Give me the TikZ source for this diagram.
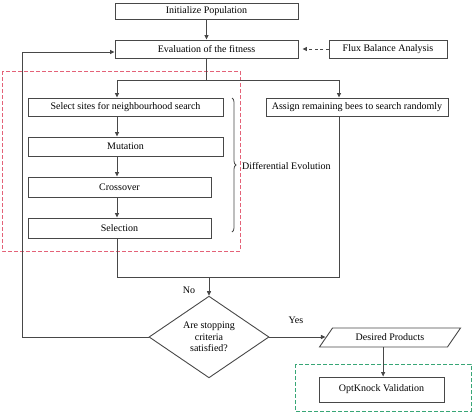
\documentclass[tikz,border=0pt]{standalone}
\usepackage{fontspec}
\setmainfont{Liberation Serif}
\usetikzlibrary{arrows.meta}
\usetikzlibrary{shapes.geometric}
\usetikzlibrary{decorations.pathreplacing}

\definecolor{deRed}{RGB}{228,98,120}
\definecolor{okGreen}{RGB}{56,166,118}
\definecolor{lineGray}{RGB}{72,72,72}

\begin{document}
\begin{tikzpicture}[x=1pt, y=-1pt, >={Triangle[width=4pt,length=4.5pt]}, font=\fontsize{10}{11.5}\selectfont,
	box/.style={draw=lineGray, line width=0.9pt, inner sep=0pt, minimum height=18pt},
	flow/.style={lineGray, line width=0.9pt}]
	\useasboundingbox (0,0) rectangle (474,413);
	\draw [deRed, line width=0.9pt, dash pattern=on 4pt off 2pt] (2,71) rectangle (240,251);
	\draw [okGreen, line width=0.9pt, dash pattern=on 4pt off 2pt] (295,364) rectangle (471,411);
	\node [box, minimum width=183pt, minimum height=16pt] (init) at (206.5,11) {Initialize Population};
	\node [box, minimum width=183pt] (eval) at (206.5,49) {Evaluation of the fitness};
	\node [box, minimum width=118pt] (fba) at (388,49) {Flux Balance Analysis};
	\node [box, minimum width=195pt] (select) at (125.5,107) {Select sites for neighbourhood search};
	\node [box, minimum width=195pt, minimum height=19pt] (mut) at (125.5,146.5) {Mutation};
	\node [box, minimum width=183pt, minimum height=20pt] (cross) at (119.5,187) {Crossover};
	\node [box, minimum width=183pt, minimum height=20pt] (sel) at (119.5,228) {Selection};
	\node [box, minimum width=182pt] (assign) at (357,107) {Assign remaining bees to search randomly};
	\node [draw=lineGray, line width=0.9pt, diamond, inner sep=0pt, minimum width=120pt, minimum height=78pt, align=center] (stop) at (209,337) {Are stopping\\criteria\\satisfied?};
	\node [draw=lineGray, line width=0.9pt, trapezium, trapezium left angle=42, trapezium right angle=138, trapezium stretches=true, inner sep=0pt, minimum width=142pt, minimum height=19pt] (desired) at (390,337.5) {Desired Products};
	\node [box, minimum width=125pt, minimum height=25pt] (opt) at (381.5,389.5) {OptKnock Validation};
	\node (no) at (189,290) {No};
	\node (yes) at (296,320) {Yes};
	\node [anchor=west, inner sep=0pt] (deLabel) at (242,166) {Differential Evolution};
	\coordinate (lx) at (117,0);
	\coordinate (rx) at (339,0);
	\coordinate (fork) at (208,80);
	\coordinate (join) at (209,277);
	\coordinate (back) at (22,52);
	\draw [flow, ->] (init) -- (eval);
	\draw [flow, ->, dash pattern=on 3pt off 2.5pt, shorten >=4pt] (fba) -- (eval);
	\draw [flow] (eval.south) -- (eval.south |- fork);
	\draw [flow, ->] (eval.south |- fork) -| (select.north -| lx);
	\draw [flow, ->] (eval.south |- fork) -| (assign.north -| rx);
	\draw [flow, ->] (select.south -| lx) -- (mut.north -| lx);
	\draw [flow, ->] (mut.south -| lx) -- (cross.north -| lx);
	\draw [flow, ->] (cross.south -| lx) -- (sel.north -| lx);
	\draw [flow] (sel.south -| lx) |- (join);
	\draw [flow] (assign.south -| rx) |- (join);
	\draw [flow, ->] (join) -- (stop.north);
	\draw [flow, ->] (stop.west) -| (back) -- (back -| eval.west);
	\draw [flow, ->] (stop.east) -- (stop.east -| desired.left side);
	\draw [flow, ->] (desired.bottom side) -- (desired.bottom side |- opt.north);
	\draw [lineGray, line width=0.8pt, decorate, decoration={brace, amplitude=4pt}] (232,98) -- (232,232);
\end{tikzpicture}
\end{document}
